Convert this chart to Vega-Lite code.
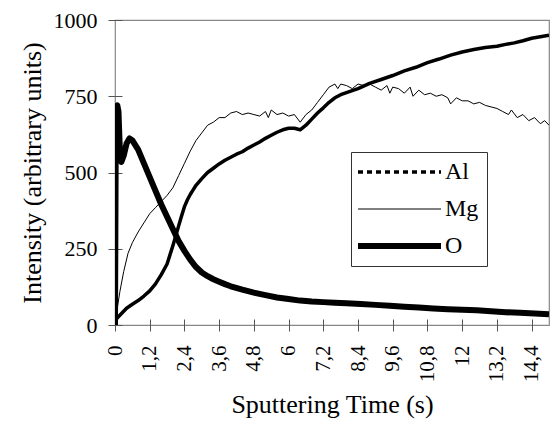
{
  "$schema": "https://vega.github.io/schema/vega-lite/v6.json",
  "autosize": {"type": "none"},
  "padding": {"left": 115, "top": 20, "right": 3, "bottom": 102},
  "width": 434,
  "height": 305,
  "background": "white",
  "config": {
    "font": "Liberation Serif, Times New Roman, DejaVu Serif, serif",
    "axis": {"labelFont": "Liberation Serif, Times New Roman, DejaVu Serif, serif", "titleFont": "Liberation Serif, Times New Roman, DejaVu Serif, serif"},
    "legend": {"labelFont": "Liberation Serif, Times New Roman, DejaVu Serif, serif"},
    "view": {"stroke": "#888888", "strokeWidth": 1.2}
  },
  "data": {
    "values": [
      {"el": "O", "t": 0, "v": 0}, {"el": "O", "t": 0.03, "v": 715}, {"el": "O", "t": 0.08, "v": 720}, {"el": "O", "t": 0.12, "v": 700},
      {"el": "O", "t": 0.15, "v": 620}, {"el": "O", "t": 0.18, "v": 545}, {"el": "O", "t": 0.22, "v": 535}, {"el": "O", "t": 0.3, "v": 555},
      {"el": "O", "t": 0.4, "v": 595}, {"el": "O", "t": 0.5, "v": 612}, {"el": "O", "t": 0.6, "v": 605}, {"el": "O", "t": 0.8, "v": 575},
      {"el": "O", "t": 1.0, "v": 530}, {"el": "O", "t": 1.2, "v": 485}, {"el": "O", "t": 1.4, "v": 440}, {"el": "O", "t": 1.6, "v": 395},
      {"el": "O", "t": 1.8, "v": 355}, {"el": "O", "t": 2.0, "v": 315}, {"el": "O", "t": 2.2, "v": 275}, {"el": "O", "t": 2.4, "v": 243},
      {"el": "O", "t": 2.6, "v": 214}, {"el": "O", "t": 2.8, "v": 190}, {"el": "O", "t": 3.0, "v": 172}, {"el": "O", "t": 3.2, "v": 160},
      {"el": "O", "t": 3.4, "v": 150}, {"el": "O", "t": 3.6, "v": 142}, {"el": "O", "t": 3.8, "v": 134}, {"el": "O", "t": 4.0, "v": 127},
      {"el": "O", "t": 4.4, "v": 116}, {"el": "O", "t": 4.8, "v": 106}, {"el": "O", "t": 5.2, "v": 98}, {"el": "O", "t": 5.6, "v": 90},
      {"el": "O", "t": 6.0, "v": 85}, {"el": "O", "t": 6.4, "v": 80}, {"el": "O", "t": 6.8, "v": 77}, {"el": "O", "t": 7.2, "v": 75},
      {"el": "O", "t": 7.6, "v": 73}, {"el": "O", "t": 8.0, "v": 71}, {"el": "O", "t": 8.5, "v": 69}, {"el": "O", "t": 9.0, "v": 66},
      {"el": "O", "t": 9.5, "v": 63}, {"el": "O", "t": 10.0, "v": 60}, {"el": "O", "t": 10.5, "v": 57}, {"el": "O", "t": 11.0, "v": 54},
      {"el": "O", "t": 11.5, "v": 52}, {"el": "O", "t": 12.0, "v": 50}, {"el": "O", "t": 12.5, "v": 48}, {"el": "O", "t": 13.0, "v": 45},
      {"el": "O", "t": 13.5, "v": 42}, {"el": "O", "t": 14.0, "v": 40}, {"el": "O", "t": 14.5, "v": 38}, {"el": "O", "t": 15.0, "v": 35},

      {"el": "Mg", "t": 0.02, "v": 20}, {"el": "Mg", "t": 0.17, "v": 110}, {"el": "Mg", "t": 0.3, "v": 175}, {"el": "Mg", "t": 0.45, "v": 235},
      {"el": "Mg", "t": 0.6, "v": 270}, {"el": "Mg", "t": 0.8, "v": 305}, {"el": "Mg", "t": 1.0, "v": 335}, {"el": "Mg", "t": 1.2, "v": 365},
      {"el": "Mg", "t": 1.4, "v": 385}, {"el": "Mg", "t": 1.6, "v": 405}, {"el": "Mg", "t": 1.8, "v": 425}, {"el": "Mg", "t": 2.0, "v": 450},
      {"el": "Mg", "t": 2.2, "v": 490}, {"el": "Mg", "t": 2.4, "v": 530}, {"el": "Mg", "t": 2.6, "v": 570}, {"el": "Mg", "t": 2.8, "v": 605},
      {"el": "Mg", "t": 3.0, "v": 630}, {"el": "Mg", "t": 3.2, "v": 655}, {"el": "Mg", "t": 3.4, "v": 665}, {"el": "Mg", "t": 3.6, "v": 680},
      {"el": "Mg", "t": 3.8, "v": 680}, {"el": "Mg", "t": 4.0, "v": 695}, {"el": "Mg", "t": 4.2, "v": 700}, {"el": "Mg", "t": 4.4, "v": 690},
      {"el": "Mg", "t": 4.6, "v": 695}, {"el": "Mg", "t": 4.8, "v": 690}, {"el": "Mg", "t": 5.0, "v": 685}, {"el": "Mg", "t": 5.2, "v": 700},
      {"el": "Mg", "t": 5.3, "v": 680}, {"el": "Mg", "t": 5.4, "v": 705}, {"el": "Mg", "t": 5.6, "v": 690}, {"el": "Mg", "t": 5.8, "v": 695},
      {"el": "Mg", "t": 6.0, "v": 685}, {"el": "Mg", "t": 6.2, "v": 690}, {"el": "Mg", "t": 6.4, "v": 665}, {"el": "Mg", "t": 6.6, "v": 690},
      {"el": "Mg", "t": 6.8, "v": 705}, {"el": "Mg", "t": 7.0, "v": 730}, {"el": "Mg", "t": 7.2, "v": 755}, {"el": "Mg", "t": 7.4, "v": 780},
      {"el": "Mg", "t": 7.6, "v": 790}, {"el": "Mg", "t": 7.7, "v": 775}, {"el": "Mg", "t": 7.8, "v": 790}, {"el": "Mg", "t": 8.0, "v": 785},
      {"el": "Mg", "t": 8.2, "v": 775}, {"el": "Mg", "t": 8.4, "v": 790}, {"el": "Mg", "t": 8.6, "v": 785}, {"el": "Mg", "t": 8.8, "v": 790},
      {"el": "Mg", "t": 9.0, "v": 780}, {"el": "Mg", "t": 9.2, "v": 770}, {"el": "Mg", "t": 9.4, "v": 785}, {"el": "Mg", "t": 9.5, "v": 760},
      {"el": "Mg", "t": 9.6, "v": 780}, {"el": "Mg", "t": 9.8, "v": 775}, {"el": "Mg", "t": 10.0, "v": 760}, {"el": "Mg", "t": 10.2, "v": 780},
      {"el": "Mg", "t": 10.3, "v": 750}, {"el": "Mg", "t": 10.5, "v": 770}, {"el": "Mg", "t": 10.7, "v": 755}, {"el": "Mg", "t": 10.9, "v": 760},
      {"el": "Mg", "t": 11.1, "v": 750}, {"el": "Mg", "t": 11.3, "v": 755}, {"el": "Mg", "t": 11.5, "v": 745}, {"el": "Mg", "t": 11.6, "v": 725},
      {"el": "Mg", "t": 11.8, "v": 745}, {"el": "Mg", "t": 12.0, "v": 735}, {"el": "Mg", "t": 12.2, "v": 735}, {"el": "Mg", "t": 12.4, "v": 725},
      {"el": "Mg", "t": 12.6, "v": 730}, {"el": "Mg", "t": 12.8, "v": 720}, {"el": "Mg", "t": 13.0, "v": 715}, {"el": "Mg", "t": 13.2, "v": 710},
      {"el": "Mg", "t": 13.4, "v": 700}, {"el": "Mg", "t": 13.6, "v": 690}, {"el": "Mg", "t": 13.7, "v": 705}, {"el": "Mg", "t": 13.9, "v": 680},
      {"el": "Mg", "t": 14.1, "v": 690}, {"el": "Mg", "t": 14.3, "v": 670}, {"el": "Mg", "t": 14.5, "v": 680}, {"el": "Mg", "t": 14.7, "v": 660},
      {"el": "Mg", "t": 14.85, "v": 670}, {"el": "Mg", "t": 15.0, "v": 655},

      {"el": "Al", "t": 0, "v": 15}, {"el": "Al", "t": 0.1, "v": 25}, {"el": "Al", "t": 0.2, "v": 35}, {"el": "Al", "t": 0.4, "v": 55},
      {"el": "Al", "t": 0.6, "v": 68}, {"el": "Al", "t": 0.8, "v": 80}, {"el": "Al", "t": 1.0, "v": 95}, {"el": "Al", "t": 1.2, "v": 112},
      {"el": "Al", "t": 1.4, "v": 135}, {"el": "Al", "t": 1.6, "v": 165}, {"el": "Al", "t": 1.8, "v": 200}, {"el": "Al", "t": 1.9, "v": 230},
      {"el": "Al", "t": 2.0, "v": 260}, {"el": "Al", "t": 2.1, "v": 292}, {"el": "Al", "t": 2.2, "v": 325}, {"el": "Al", "t": 2.3, "v": 357},
      {"el": "Al", "t": 2.4, "v": 388}, {"el": "Al", "t": 2.5, "v": 410}, {"el": "Al", "t": 2.6, "v": 428}, {"el": "Al", "t": 2.7, "v": 443},
      {"el": "Al", "t": 2.8, "v": 458}, {"el": "Al", "t": 3.0, "v": 480}, {"el": "Al", "t": 3.2, "v": 500}, {"el": "Al", "t": 3.4, "v": 514},
      {"el": "Al", "t": 3.6, "v": 528}, {"el": "Al", "t": 3.8, "v": 540}, {"el": "Al", "t": 4.0, "v": 550}, {"el": "Al", "t": 4.2, "v": 560},
      {"el": "Al", "t": 4.4, "v": 568}, {"el": "Al", "t": 4.6, "v": 580}, {"el": "Al", "t": 4.8, "v": 590}, {"el": "Al", "t": 5.0, "v": 600},
      {"el": "Al", "t": 5.2, "v": 612}, {"el": "Al", "t": 5.4, "v": 622}, {"el": "Al", "t": 5.6, "v": 632}, {"el": "Al", "t": 5.8, "v": 640},
      {"el": "Al", "t": 6.0, "v": 645}, {"el": "Al", "t": 6.2, "v": 645}, {"el": "Al", "t": 6.4, "v": 640}, {"el": "Al", "t": 6.6, "v": 655},
      {"el": "Al", "t": 6.8, "v": 675}, {"el": "Al", "t": 7.0, "v": 695}, {"el": "Al", "t": 7.2, "v": 712}, {"el": "Al", "t": 7.4, "v": 730},
      {"el": "Al", "t": 7.6, "v": 745}, {"el": "Al", "t": 7.8, "v": 755}, {"el": "Al", "t": 8.0, "v": 762}, {"el": "Al", "t": 8.4, "v": 775},
      {"el": "Al", "t": 8.8, "v": 792}, {"el": "Al", "t": 9.2, "v": 805}, {"el": "Al", "t": 9.6, "v": 818}, {"el": "Al", "t": 10.0, "v": 833},
      {"el": "Al", "t": 10.4, "v": 845}, {"el": "Al", "t": 10.8, "v": 860}, {"el": "Al", "t": 11.2, "v": 872}, {"el": "Al", "t": 11.6, "v": 885},
      {"el": "Al", "t": 12.0, "v": 895}, {"el": "Al", "t": 12.4, "v": 903}, {"el": "Al", "t": 12.8, "v": 910}, {"el": "Al", "t": 13.2, "v": 914},
      {"el": "Al", "t": 13.5, "v": 920}, {"el": "Al", "t": 13.8, "v": 925}, {"el": "Al", "t": 14.1, "v": 932}, {"el": "Al", "t": 14.4, "v": 940},
      {"el": "Al", "t": 14.7, "v": 945}, {"el": "Al", "t": 15.0, "v": 950}
    ]
  },
  "mark": {"type": "line", "strokeCap": "butt", "strokeJoin": "round", "clip": true},
  "encoding": {
    "x": {
      "field": "t", "type": "quantitative",
      "scale": {"domain": [0, 15], "nice": false, "zero": true},
      "axis": {
        "title": "Sputtering Time (s)",
        "values": [0, 1.2, 2.4, 3.6, 4.8, 6, 7.2, 8.4, 9.6, 10.8, 12, 13.2, 14.4],
        "labelExpr": "replace(format(datum.value, '.1~f'), '.', ',')",
        "labelAngle": 270,
        "labelFontSize": 21,
        "labelColor": "black",
        "labelPadding": 14,
        "labelFlush": false,
        "labelOverlap": false,
        "domain": false,
        "offset": -6,
        "tickSize": 12,
        "tickColor": "#555555",
        "grid": false,
        "titleFontSize": 26,
        "titleFontWeight": "normal",
        "titleColor": "black",
        "titlePadding": 10
      }
    },
    "y": {
      "field": "v", "type": "quantitative",
      "scale": {"domain": [0, 1000], "nice": false},
      "axis": {
        "title": "Intensity (arbitrary units)",
        "values": [0, 250, 500, 750, 1000],
        "format": "d",
        "labelFontSize": 22,
        "labelColor": "black",
        "labelPadding": 11,
        "labelFlush": false,
        "domain": false,
        "offset": -7,
        "tickSize": 14,
        "tickColor": "#555555",
        "grid": false,
        "titleFontSize": 26,
        "titleFontWeight": "normal",
        "titleColor": "black",
        "titlePadding": 8
      }
    },
    "color": {
      "field": "el", "type": "nominal",
      "scale": {"domain": ["Al", "Mg", "O"], "range": ["black", "black", "black"]},
      "legend": {
        "title": null,
        "orient": "none",
        "legendX": 236,
        "legendY": 132,
        "symbolType": "M-2.6,0H14",
        "symbolSize": 100,
        "symbolFillColor": "transparent",
        "labelFontSize": 24,
        "labelColor": "black",
        "labelOffset": 62,
        "strokeColor": "#333333",
        "fillColor": "white",
        "padding": 8,
        "rowPadding": 13,
        "encode": {
          "symbols": {"update": {"strokeDash": {"signal": "datum.value === 'Al' ? [5, 4] : [1, 0]"}}}
        }
      }
    },
    "strokeWidth": {
      "field": "el", "type": "nominal",
      "scale": {"type": "ordinal", "domain": ["Al", "Mg", "O"], "range": [3.5, 1, 6]},
      "legend": null
    }
  }
}
